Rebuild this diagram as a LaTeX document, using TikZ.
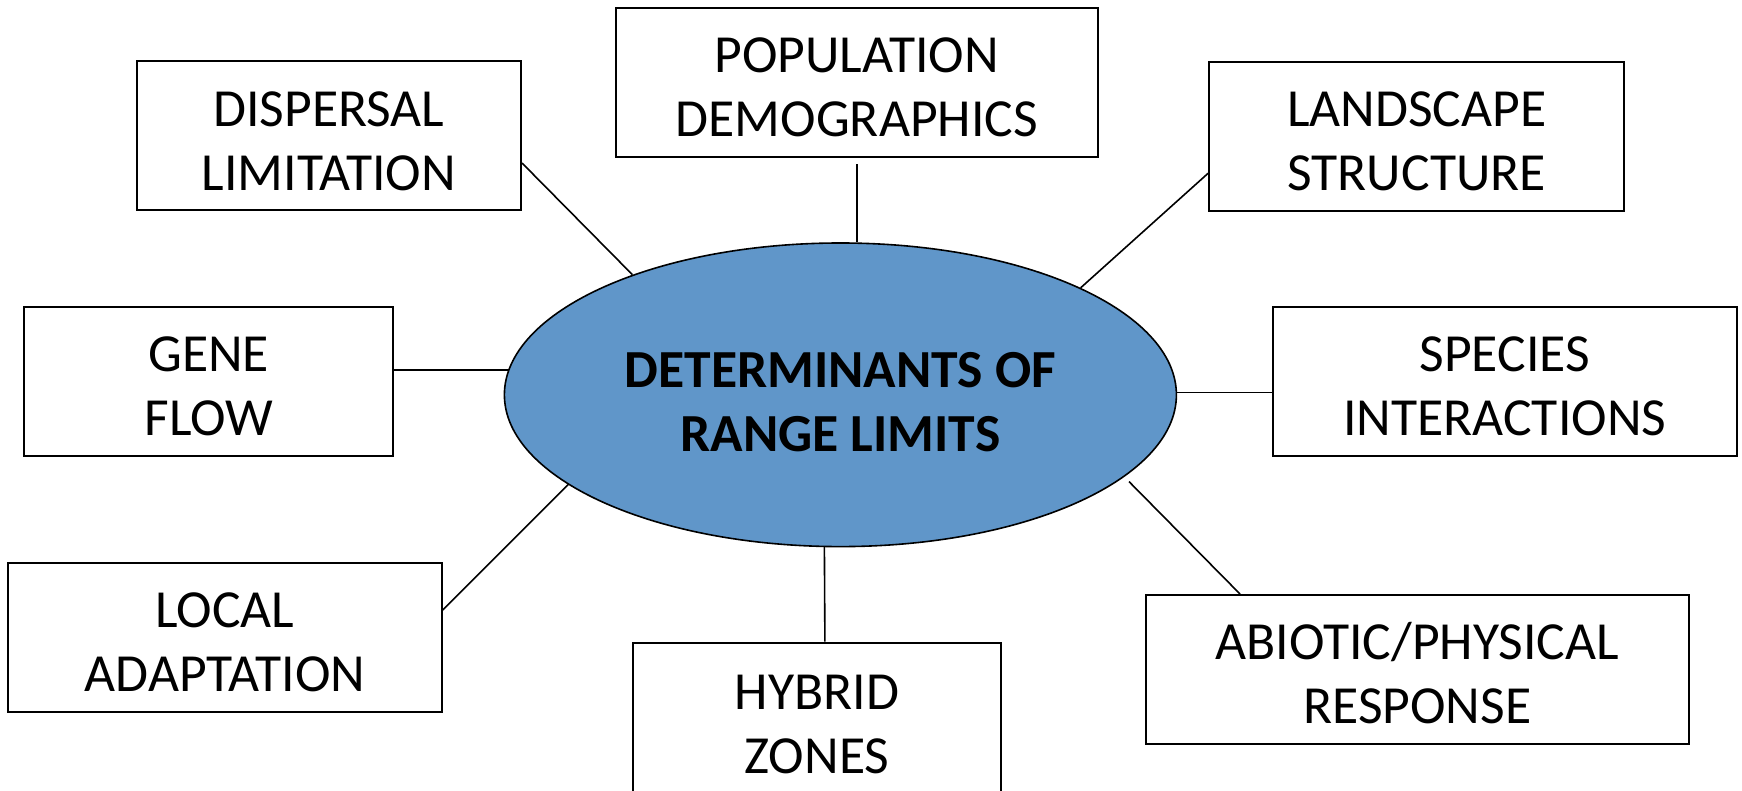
\documentclass[tikz,border=0pt]{standalone}
\usepackage{fontspec}
\setmainfont{Carlito}
\usepackage{xcolor}
\usepackage{tikz}
\usetikzlibrary{shapes.geometric,backgrounds}

\definecolor{corefill}{RGB}{96,150,201}

\begin{document}
\begin{tikzpicture}[x=0.5pt, y=-0.5pt]
	\tikzset{
		factor/.style={rectangle, draw=black, line width=1pt, align=center, inner sep=0pt,
			font=\fontsize{26.8}{32}\selectfont, text height=54.3pt, text depth=0pt},
		core/.style={ellipse, draw=black, line width=0.8pt, fill=corefill, align=center, inner sep=0pt,
			minimum width=336pt, minimum height=151.8pt,
			font=\fontsize{26.8}{32}\selectfont\bfseries, text height=56.5pt, text depth=0pt},
		link/.style={draw=black, line width=0.8pt}
	}
	\useasboundingbox (0,0) rectangle (1742,791);
	
	% ---- Centre ----
	\node[core] (core) at (840.4,394.8) {DETERMINANTS OF\\RANGE LIMITS};
	
	% ---- Top row ----
	\node[factor, minimum width=192.2pt, minimum height=74.7pt] (disp) at (328.8,135.8) {DISPERSAL\\LIMITATION};
	\node[factor, minimum width=240.8pt, minimum height=74.2pt] (pop) at (856.8,82.5) {POPULATION\\DEMOGRAPHICS};
	\node[factor, minimum width=207.6pt, minimum height=74.6pt] (land) at (1416.7,136.3) {LANDSCAPE\\STRUCTURE};
	
	% ---- Middle row ----
	\node[factor, minimum width=184.3pt, minimum height=74.5pt] (gene) at (208.7,381.2) {GENE\\FLOW};
	\node[factor, minimum width=232pt, minimum height=74.5pt] (spec) at (1504.7,381.2) {SPECIES\\INTERACTIONS};
	
	% ---- Bottom row ----
	\node[factor, minimum width=216.7pt, minimum height=74.8pt] (local) at (225,637.5) {LOCAL\\ADAPTATION};
	\node[factor, minimum width=184.2pt, minimum height=76pt] (hyb) at (816.9,718.7) {HYBRID\\ZONES};
	\node[factor, minimum width=271.7pt, minimum height=74.5pt] (abio) at (1417.2,669.5) {ABIOTIC/PHYSICAL\\RESPONSE};
	
	% ---- Links ----
	\coordinate (gw) at (gene.east -| core.west);
	\coordinate (se) at (spec.west -| core.east);
	\coordinate (abioend) at ([xshift=-144.1pt,yshift=56.2pt]abio.north);
	\begin{pgfonlayer}{background}
		\draw[link] ([yshift=-13.6pt]disp.east) -- (core.150);
		\draw[link] ([yshift=-3.2pt]pop.south) -- (pop.south |- core.north);
		\draw[link] ([yshift=-18.5pt]land.west) -- (core.24.6);
		\draw[link] ([yshift=5.6pt]gene.east) -- ([xshift=5pt,yshift=5.6pt]gw);
		\draw[link] ([yshift=-5.7pt]spec.west) -- ([xshift=-5pt,yshift=-5.7pt]se);
		\draw[link] ([yshift=13.7pt]local.east) -- ([xshift=66pt,yshift=79.7pt]local.east);
		\draw[link] ([xshift=4pt]hyb.north) -- (core.264);
		\draw[link] ([xshift=-88.6pt]abio.north) -- (abioend);
	\end{pgfonlayer}
\end{tikzpicture}
\end{document}
